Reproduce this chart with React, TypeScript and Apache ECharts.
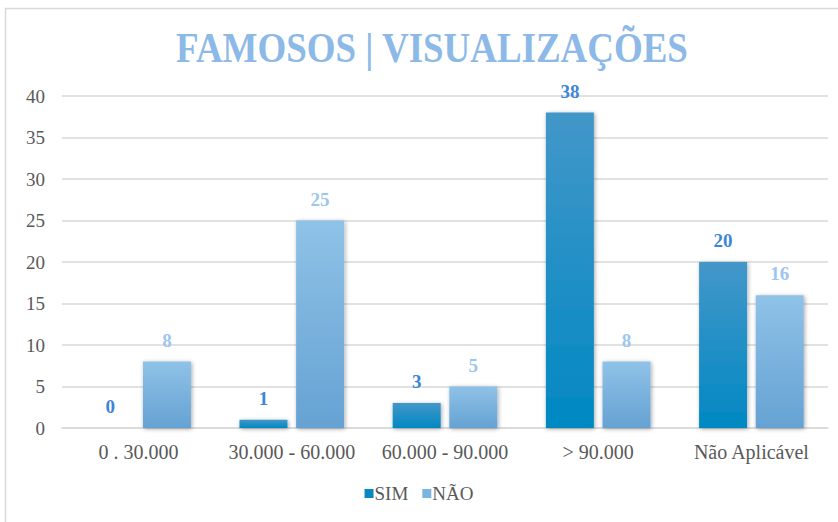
import React, { useEffect, useRef } from "react";
import * as echarts from "echarts";

const categories = ["0 . 30.000", "30.000 - 60.000", "60.000 - 90.000", "> 90.000", "Não Aplicável"];
const simValues = [0, 1, 3, 38, 20];
const naoValues = [8, 25, 5, 8, 16];
const seriesNames = ["SIM", "NÃO"];
const titleText = "FAMOSOS | VISUALIZAÇÕES";

const FONT = "serif";

export default function App() {
  const ref = useRef<HTMLDivElement>(null);
  useEffect(() => {
    if (!ref.current) return;
    const chart = echarts.init(ref.current, undefined, { renderer: "svg" });
    const simGrad = new echarts.graphic.LinearGradient(0, 0, 0, 1, [
      { offset: 0, color: "#4397c9" },
      { offset: 1, color: "#0088c2" },
    ]);
    const naoGrad = new echarts.graphic.LinearGradient(0, 0, 0, 1, [
      { offset: 0, color: "#8fc2e7" },
      { offset: 1, color: "#65a2d3" },
    ]);
    const shadow = {
      shadowBlur: 4,
      shadowColor: "rgba(0,0,0,0.35)",
      shadowOffsetX: 1,
      shadowOffsetY: 1,
    };
    chart.setOption({
      animation: false,
      backgroundColor: "#ffffff",
      textStyle: { fontFamily: FONT },
      graphic: [
        {
          type: "rect",
          silent: true,
          shape: { x: 5.5, y: 8.5, width: 860, height: 540 },
          style: { fill: "none", stroke: "#d9d9d9", lineWidth: 1.5 },
        },
        {
          type: "group",
          x: 432,
          y: 48,
          scaleX: 0.88,
          children: [
            {
              type: "text",
              x: 0,
              y: 0,
              style: {
                text: titleText,
                fontFamily: FONT,
                fontWeight: "bold",
                fontSize: 42,
                fill: "#8db9e8",
                textAlign: "center",
                textVerticalAlign: "middle",
              },
            },
          ],
        },
      ],
      legend: {
        bottom: 14,
        left: "center",
        itemWidth: 9,
        itemHeight: 9,
        itemGap: 14,
        icon: "rect",
        textStyle: { fontFamily: FONT, fontSize: 19, color: "#595959", padding: [0, 0, 0, -4] },
        data: [
          { name: seriesNames[0], itemStyle: { color: "#0a86c0" } },
          { name: seriesNames[1], itemStyle: { color: "#7ab5e0" } },
        ],
      },
      grid: { left: 62, right: 10, top: 96, bottom: 94, containLabel: false },
      xAxis: {
        type: "category",
        data: categories,
        axisLine: { lineStyle: { color: "#d9d9d9", width: 1.5 } },
        axisTick: { show: false },
        axisLabel: { interval: 0, fontFamily: FONT, fontSize: 20, color: "#595959", margin: 14 },
      },
      yAxis: {
        type: "value",
        min: 0,
        max: 40,
        interval: 5,
        axisLine: { show: false },
        axisTick: { show: false },
        splitLine: { lineStyle: { color: "#d9d9d9", width: 1.5 } },
        axisLabel: { fontFamily: FONT, fontSize: 19, color: "#595959", margin: 17 },
      },
      series: [
        {
          name: seriesNames[0],
          type: "bar",
          data: simValues,
          barWidth: 48,
          barGap: "18%",
          itemStyle: { color: simGrad, ...shadow },
          label: {
            show: true,
            position: "top",
            distance: 12,
            fontFamily: FONT,
            fontWeight: "bold",
            fontSize: 19,
            color: "#3b86d6",
          },
        },
        {
          name: seriesNames[1],
          type: "bar",
          data: naoValues,
          barWidth: 48,
          itemStyle: { color: naoGrad, ...shadow },
          label: {
            show: true,
            position: "top",
            distance: 12,
            fontFamily: FONT,
            fontWeight: "bold",
            fontSize: 19,
            color: "#9dc6ec",
          },
        },
      ],
    });
    return () => chart.dispose();
  }, []);
  return (
    <div
      ref={ref}
      style={{ position: "absolute", left: 0, top: 0, width: 838, height: 522 }}
    />
  );
}
